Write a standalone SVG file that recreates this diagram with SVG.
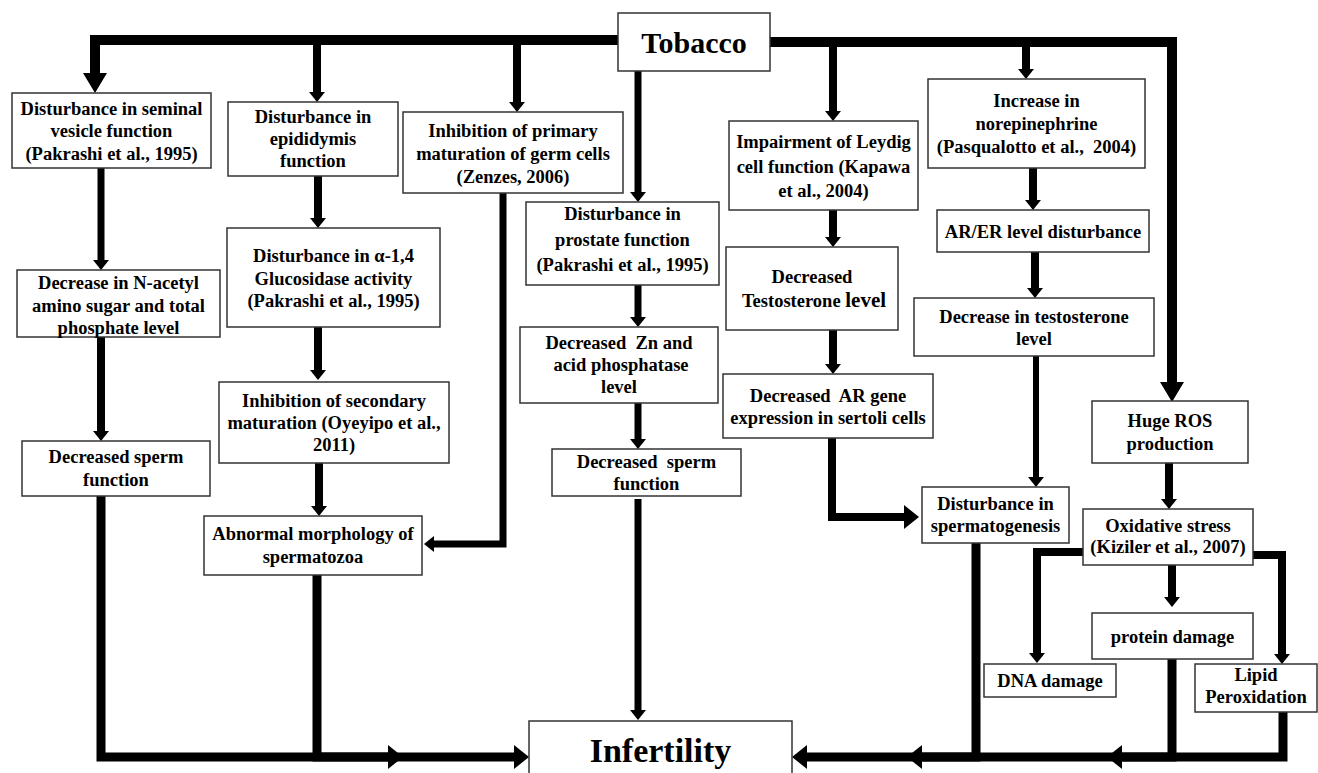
<svg xmlns="http://www.w3.org/2000/svg" width="1318" height="773" viewBox="0 0 1318 773">
<style>
.box{fill:#fff;stroke:#333;stroke-width:1.5}
.t{font-family:"Liberation Serif","Times New Roman",serif;font-weight:bold;font-size:18.5px;text-anchor:middle;fill:#000}
.c{fill:none;stroke:#000;stroke-linejoin:miter;stroke-linecap:butt}
.w10{stroke-width:10}.w9{stroke-width:9}.w8{stroke-width:8}.w7{stroke-width:7}.w6{stroke-width:6}
.sm{marker-end:url(#sm)}.lg{marker-end:url(#lg)}.bt{marker-end:url(#bt)}
</style>
<defs>
<marker id="sm" markerUnits="userSpaceOnUse" viewBox="0 0 10 16" markerWidth="10" markerHeight="16" refX="0" refY="8" orient="auto"><path d="M0,0 L10,8 L0,16 Z" fill="#000"/></marker>
<marker id="lg" markerUnits="userSpaceOnUse" viewBox="0 0 20 24" markerWidth="20" markerHeight="24" refX="0" refY="12" orient="auto"><path d="M0,0 L20,12 L0,24 Z" fill="#000"/></marker>
<marker id="bt" markerUnits="userSpaceOnUse" viewBox="0 0 15 24" markerWidth="15" markerHeight="24" refX="0" refY="12" orient="auto"><path d="M0,0 L15,12 L0,24 Z" fill="#000"/></marker>
</defs>
<rect width="1318" height="773" fill="#fff"/>

<g id="connectors">
<path class="c w10 lg" d="M620,40 H95 V73"/>
<path class="c w10 lg" d="M768,42 H1172 V382"/>
<path class="c w8 sm" d="M317,40 V92"/>
<path class="c w8 sm" d="M517,40 V102"/>
<path class="c w8 sm" d="M833,42 V111"/>
<path class="c w8 sm" d="M1026,42 V69"/>
<path class="c w7 sm" d="M638,71 V192"/>
<path class="c w7 sm" d="M101,168 V260"/>
<path class="c w8 sm" d="M101,337 V431"/>
<path class="c w8 sm" d="M318,176 V218"/>
<path class="c w8 sm" d="M318,327 V370"/>
<path class="c w8 sm" d="M319,463 V506"/>
<path class="c w7 sm" d="M503,193 V544 H434"/>
<path class="c w7 sm" d="M638,285 V317"/>
<path class="c w7 sm" d="M638,403 V439"/>
<path class="c w7 sm" d="M638,499 V710"/>
<path class="c w8 sm" d="M833,210 V237"/>
<path class="c w8 sm" d="M833,330 V364"/>
<path class="c w8 bt" d="M832,438 V517 H904"/>
<path class="c w8 sm" d="M1033,168 V200"/>
<path class="c w8 sm" d="M1035,252 V288"/>
<path class="c w6 sm" d="M1036,356 V477"/>
<path class="c w8 sm" d="M1169,463 V499"/>
<path class="c w8 sm" d="M1083,552 H1037 V653"/>
<path class="c w8 sm" d="M1172,565 V597"/>
<path class="c w8 sm" d="M1253,555 H1282 V654"/>
<path class="c w9 bt" d="M101,496 V757 H388"/>
<path class="c w9 bt" d="M317,575 V757 H514"/>
<path class="c w9 bt" d="M1283,712 V757 H1122"/>
<path class="c w9 bt" d="M1172,659 V757 H922"/>
<path class="c w9 bt" d="M976,543 V757 H807"/>
</g>

<g id="tobacco"><rect class="box" x="618" y="13" width="152" height="58"/><text class="t" x="694" y="53" style="font-size:30px">Tobacco</text></g>

<g id="seminal"><rect class="box" x="12" y="93" width="199" height="75"/>
<text class="t" x="111.5" y="115">Disturbance in seminal</text><text class="t" x="111.5" y="137">vesicle function</text><text class="t" x="111.5" y="160">(Pakrashi et al., 1995)</text></g>

<g id="epididymis"><rect class="box" x="228" y="102" width="170" height="74"/>
<text class="t" x="313" y="123">Disturbance in</text><text class="t" x="313" y="145">epididymis</text><text class="t" x="313" y="167">function</text></g>

<g id="primary"><rect class="box" x="403" y="112" width="220" height="81"/>
<text class="t" x="513" y="137">Inhibition of primary</text><text class="t" x="513" y="160">maturation of germ cells</text><text class="t" x="513" y="183">(Zenzes, 2006)</text></g>

<g id="leydig"><rect class="box" x="729" y="121" width="189" height="89"/>
<text class="t" x="823.5" y="148">Impairment of Leydig</text><text class="t" x="823.5" y="173">cell function (Kapawa</text><text class="t" x="823.5" y="197">et al., 2004)</text></g>

<g id="norepinephrine"><rect class="box" x="928" y="79" width="217" height="89"/>
<text class="t" x="1036.5" y="107">Increase in</text><text class="t" x="1036.5" y="130">norepinephrine</text><text class="t" x="1036.5" y="153" xml:space="preserve">(Pasqualotto et al.,  2004)</text></g>

<g id="arer"><rect class="box" x="937" y="210" width="212" height="42"/>
<text class="t" x="1043" y="238">AR/ER level disturbance</text></g>

<g id="prostate"><rect class="box" x="526" y="202" width="193" height="83"/>
<text class="t" x="622.5" y="220">Disturbance in</text><text class="t" x="622.5" y="246">prostate function</text><text class="t" x="622.5" y="271">(Pakrashi et al., 1995)</text></g>

<g id="glucosidase"><rect class="box" x="227" y="228" width="213" height="99"/>
<text class="t" x="333.5" y="262">Disturbance in α-1,4</text><text class="t" x="333.5" y="285">Glucosidase activity</text><text class="t" x="333.5" y="307">(Pakrashi et al., 1995)</text></g>

<g id="testosterone"><rect class="box" x="726" y="247" width="172" height="83"/>
<text class="t" x="812" y="283">Decreased</text><text class="t" x="814" y="307">Testosterone <tspan style="font-size:21px">level</tspan></text></g>

<g id="nacetyl"><rect class="box" x="17" y="270" width="203" height="67"/>
<text class="t" x="118.5" y="289">Decrease in N-acetyl</text><text class="t" x="118.5" y="312">amino sugar and total</text><text class="t" x="118.5" y="334">phosphate level</text></g>

<g id="dectestosterone"><rect class="box" x="914" y="298" width="240" height="58"/>
<text class="t" x="1034" y="323">Decrease in testosterone</text><text class="t" x="1034" y="345">level</text></g>

<g id="zinc"><rect class="box" x="520" y="327" width="198" height="76"/>
<text class="t" x="619" y="349" xml:space="preserve">Decreased  Zn and</text><text class="t" x="621" y="371">acid phosphatase</text><text class="t" x="619" y="393">level</text></g>

<g id="argene"><rect class="box" x="723" y="374" width="210" height="64"/>
<text class="t" x="828" y="402" xml:space="preserve">Decreased  AR gene</text><text class="t" x="828" y="424">expression in sertoli cells</text></g>

<g id="secondary"><rect class="box" x="219" y="382" width="230" height="81"/>
<text class="t" x="334" y="407">Inhibition of secondary</text><text class="t" x="334" y="429">maturation (Oyeyipo et al.,</text><text class="t" x="334" y="451">2011)</text></g>

<g id="ros"><rect class="box" x="1092" y="401" width="156" height="62"/>
<text class="t" x="1170" y="427">Huge ROS</text><text class="t" x="1170" y="450">production</text></g>

<g id="sperm1"><rect class="box" x="22" y="441" width="188" height="55"/>
<text class="t" x="116" y="463">Decreased sperm</text><text class="t" x="116" y="486">function</text></g>

<g id="sperm2"><rect class="box" x="552" y="449" width="189" height="47"/>
<text class="t" x="646.5" y="468" xml:space="preserve">Decreased  sperm</text><text class="t" x="646.5" y="490">function</text></g>

<g id="spermatogenesis"><rect class="box" x="922" y="487" width="147" height="56"/>
<text class="t" x="995.5" y="510">Disturbance in</text><text class="t" x="995.5" y="532">spermatogenesis</text></g>

<g id="oxidative"><rect class="box" x="1083" y="509" width="170" height="56"/>
<text class="t" x="1168" y="532">Oxidative stress</text><text class="t" x="1168" y="553">(Kiziler et al., 2007)</text></g>

<g id="abnormal"><rect class="box" x="204" y="516" width="218" height="59"/>
<text class="t" x="313" y="540">Abnormal morphology of</text><text class="t" x="313" y="563">spermatozoa</text></g>

<g id="protein"><rect class="box" x="1092" y="613" width="161" height="46"/>
<text class="t" x="1172.5" y="643">protein damage</text></g>

<g id="dna"><rect class="box" x="984" y="664" width="132" height="33"/>
<text class="t" x="1050" y="687">DNA damage</text></g>

<g id="lipid"><rect class="box" x="1195" y="664" width="122" height="48"/>
<text class="t" x="1256" y="681">Lipid</text><text class="t" x="1256" y="703">Peroxidation</text></g>

<g id="infertility"><rect class="box" x="529" y="721" width="263" height="60"/>
<text class="t" x="660.5" y="762" style="font-size:34px">Infertility</text></g>
</svg>
